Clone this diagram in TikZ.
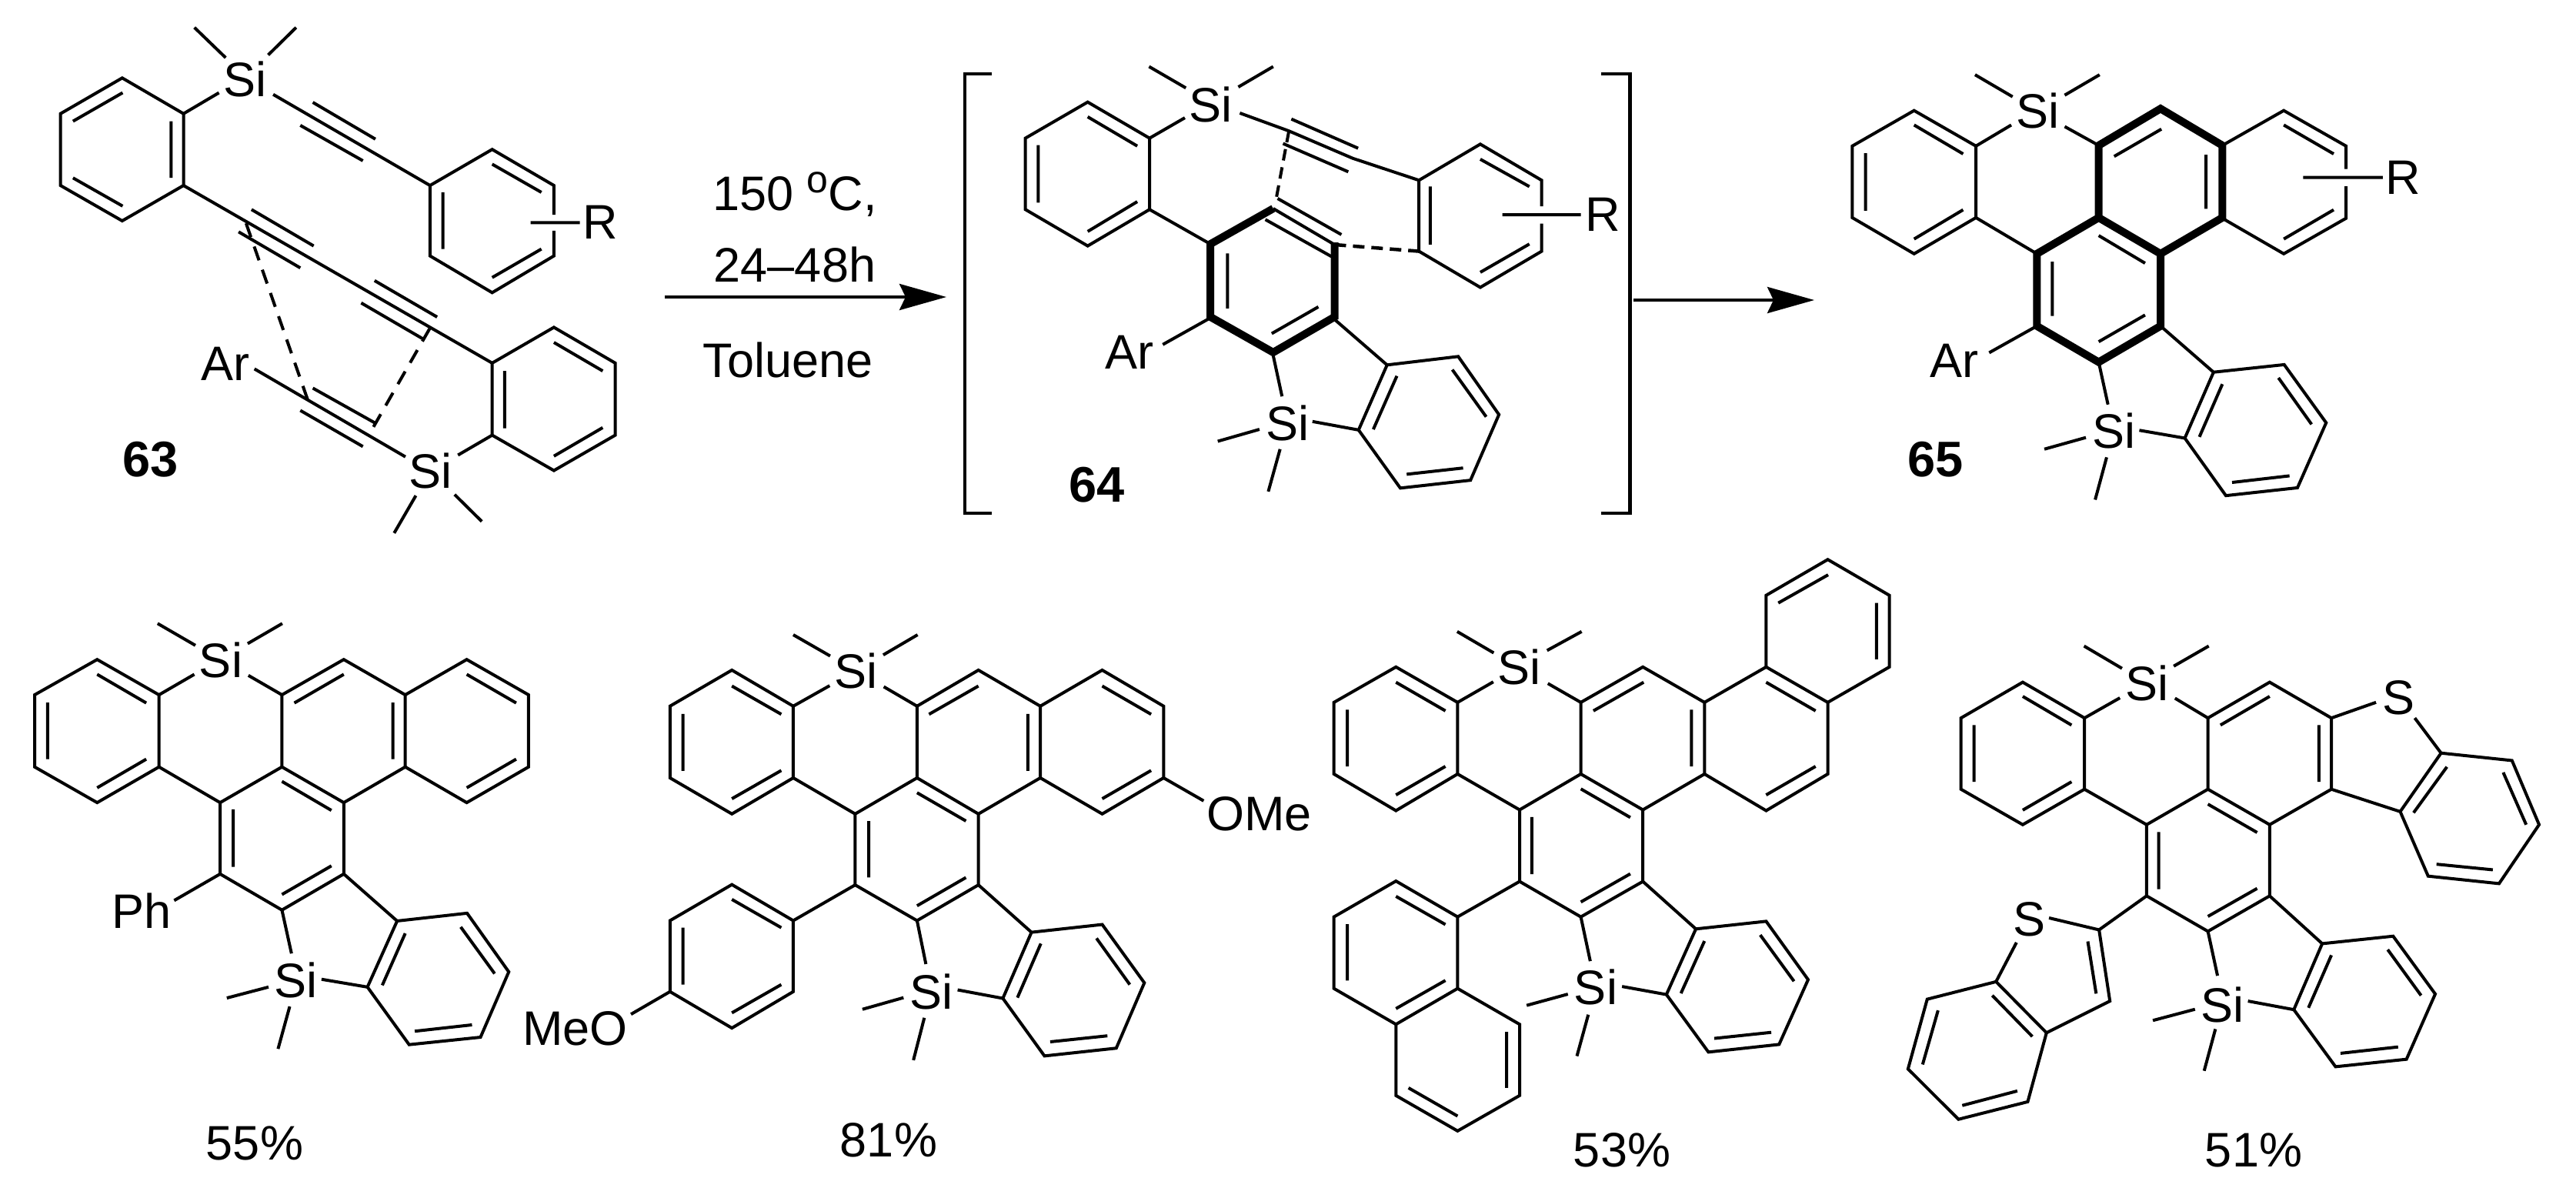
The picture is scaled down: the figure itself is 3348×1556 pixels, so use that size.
\documentclass[tikz,border=0pt]{standalone}
\usepackage{fontspec}
\setmainfont{Liberation Sans}
\usetikzlibrary{arrows.meta}
\tikzset{
  bond/.style={line width=4pt,line cap=butt,line join=miter,black},
  bold bond/.style={line width=10pt,line cap=butt,line join=miter,black},
  thin dash/.style={line width=4pt,dash pattern=on 19pt off 13pt,black},
  short dash/.style={line width=4pt,dash pattern=on 15pt off 9pt,black},
  side dash/.style={line width=4.5pt,dash pattern=on 15pt off 9pt,black},
  atom/.style={inner sep=0pt,font=\fontsize{63}{63}\selectfont,black},
  cmpd/.style={inner sep=0pt,font=\fontsize{65}{65}\selectfont\bfseries,black},
  yield/.style={inner sep=0pt,font=\fontsize{63}{63}\selectfont,black},
  rxn/.style={line width=4pt,black,-{Stealth[length=61pt,width=34pt,inset=8pt]}},
  brk/.style={line width=4.5pt,line cap=butt,line join=miter,black}
}
\begin{document}
\begin{tikzpicture}[x=1pt,y=-1pt]
\fill[white] (0,0) rectangle (3348,1556);
\useasboundingbox (0,0) rectangle (3348,1556);

% ---------- 63 ----------
\begin{scope}[shift={(0,0)},x=0.5421pt,y=-0.4464pt]
\node[atom] (a-si1) at (588,230) {Si};
\node[atom] (a-r) at (1440,648) {R};
\node[atom] (a-ar) at (540,1060) {Ar};
\node[atom] (a-si2) at (1032,1372) {Si};
\node[cmpd] (a-num) at (360,1337) {63};
\draw[bond] (293,227)--(440,331)--(440,540)--(293,643)--(145,540)--(145,331)--cycle;
\draw[bond] (294,270)--(175,353) (410,353)--(410,518) (294,600)--(175,518);
\draw[bond] (541,168)--(466,80) (643,160)--(710,80) (440,331)--(525,270);
\draw[bond] (655,275)--(1031,540) (750,298)--(900,405) (720,365)--(870,468);
\draw[bond] (1328,625)--(1328,540)--(1180,435)--(1031,540)--(1031,745)--(1180,852)--(1328,745)--(1328,672);
\draw[bond] (1180,478)--(1298,560) (1062,560)--(1062,725) (1180,808)--(1298,725) (1272,648)--(1390,648);
\draw[bond] (440,540)--(1180,1057) (603,610)--(752,716) (572,675)--(720,780) (898,817)--(1048,923) (866,882)--(1016,988);
\draw[bond] (1180,1057)--(1328,953)--(1475,1057)--(1475,1267)--(1328,1370)--(1180,1267)--cycle;
\draw[bond] (1328,997)--(1445,1080) (1210,1080)--(1210,1247) (1328,1328)--(1445,1245);
\draw[bond] (1180,1267)--(1098,1325) (997,1443)--(945,1552) (1090,1440)--(1155,1518);
\draw[bond] (610,1074)--(972,1330) (750,1130)--(900,1232) (720,1195)--(870,1300);
\draw[thin dash] (590,650)--(738,1165);
\draw[thin dash] (1030,957)--(885,1265);
\end{scope}

% ---------- 64 ----------
\begin{scope}[shift={(1200,60)},x=0.6378pt,y=-0.4082pt]
\node[atom] (b-si1) at (585,185) {Si};
\node[atom] (b-r) at (1385,537) {R};
\node[atom] (b-ar) at (420,975) {Ar};
\node[atom] (b-si2) at (742,1200) {Si};
\node[cmpd] (b-num) at (353,1397) {64};
\draw[bond] (335,178)--(461,293)--(461,520)--(335,636)--(208,520)--(208,293)--cycle;
\draw[bond] (335,225)--(436,318) (234,315)--(234,498) (335,590)--(436,495);
\draw[bond] (535,133)--(460,65) (642,130)--(713,65) (461,293)--(533,228);
\draw[bond] (645,213)--(745,270)--(875,357)--(1010,427) (750,232)--(886,325) (733,310)--(866,400);
\draw[short dash] (745,270)--(718,495);
\draw[bond] (1260,510)--(1260,427)--(1135,312)--(1010,427)--(1010,653)--(1135,768)--(1260,653)--(1260,565);
\draw[bond] (1135,360)--(1235,447) (1033,447)--(1033,632) (1135,720)--(1235,630) (1180,537)--(1340,537);
\draw[bold bond] (585,634)--(585,630)--(713,517);
\draw[bold bond] (585,630)--(585,862)--(713,975)--(838,862)--(838,625);
\draw[bond] (713,517)--(838,632) (722,485)--(852,600) (697,552)--(832,670);
\draw[side dash] (838,632)--(1010,653);
\draw[bond] (620,660)--(620,835) (710,915)--(805,830);
\draw[bond] (461,520)--(585,630) (488,950)--(585,865) (713,985)--(731,1115);
\draw[bond] (685,1220)--(600,1258) (727,1283)--(703,1418) (793,1195)--(887,1222) (838,870)--(945,1015);
\draw[bond] (945,1015)--(1090,988)--(1173,1173)--(1115,1382)--(972,1407)--(887,1222)--cycle;
\draw[bond] (965,1050)--(917,1220) (1078,1030)--(1147,1180) (985,1363)--(1100,1343);
\draw[brk] (140,88)--(85,88)--(85,1487)--(140,1487);
\draw[brk] (1382,88)--(1440,88)--(1440,1487)--(1382,1487);
\end{scope}

% ---------- 65 ----------
\begin{scope}[shift={(2300,40)},x=0.574pt,y=-0.4082pt]
\node[atom] (c-si1) at (607,255) {Si};
\node[atom] (c-r) at (1435,467) {R};
\node[atom] (c-ar) at (418,1050) {Ar};
\node[atom] (c-si2) at (780,1275) {Si};
\node[cmpd] (c-num) at (375,1365) {65};
\draw[bond] (327,254)--(467,367)--(467,595)--(327,710)--(187,595)--(187,367)--cycle;
\draw[bond] (327,300)--(438,392) (217,390)--(217,573) (327,663)--(438,570);
\draw[bond] (550,210)--(465,140) (668,205)--(747,140) (467,367)--(547,300) (668,305)--(745,365);
\draw[bold bond] (745,595)--(745,365)--(885,248)--(1025,365)--(1025,595)--(885,710)--(745,595)--(605,710)--(605,940)--(745,1055)--(885,940)--(885,710);
\draw[bond] (780,400)--(887,313) (988,395)--(988,567) (745,652)--(850,740) (640,735)--(640,908) (745,990)--(850,905);
\draw[bond] (1305,440)--(1305,367)--(1164,254)--(1025,365) (1025,597)--(1164,710)--(1305,597)--(1305,495);
\draw[bond] (1164,300)--(1277,392) (1164,663)--(1277,570) (1208,467)--(1388,467);
\draw[bond] (467,595)--(605,710) (497,1025)--(605,940) (745,1055)--(766,1190);
\draw[bond] (716,1295)--(622,1332) (763,1358)--(737,1493) (837,1272)--(940,1297) (885,940)--(1005,1087);
\draw[bond] (1005,1087)--(1165,1063)--(1260,1248)--(1195,1455)--(1033,1480)--(940,1297)--cycle;
\draw[bond] (1025,1125)--(973,1293) (1152,1105)--(1227,1253) (1047,1438)--(1177,1417);
\end{scope}

% ---------- 55% compound ----------
\begin{scope}[shift={(0,780)},x=0.4592pt,y=-0.4592pt]
\node[atom] (d-si1) at (625,170) {Si};
\node[atom] (d-ph) at (400,878) {Ph};
\node[atom] (d-si2) at (838,1075) {Si};
\draw[bond] (275,168)--(450,268)--(450,472)--(275,573)--(98,472)--(98,268)--cycle;
\draw[bond] (275,210)--(414,291) (135,290)--(135,450) (275,531)--(414,450);
\draw[bond] (553,128)--(446,66) (701,123)--(799,66) (450,268)--(550,210) (703,213)--(798,268);
\draw[bond] (798,268)--(973,168)--(1147,268)--(1147,472)--(973,573)--(798,472)--cycle;
\draw[bond] (833,291)--(973,210) (1112,290)--(1112,450) (798,513)--(938,595);
\draw[bond] (1147,268)--(1321,168)--(1496,268)--(1496,472)--(1321,573)--(1147,472);
\draw[bond] (1321,210)--(1461,291) (1321,531)--(1461,450);
\draw[bond] (798,472)--(623,573)--(623,775)--(798,877)--(973,775)--(973,573);
\draw[bond] (660,592)--(660,755) (798,833)--(938,752);
\draw[bond] (450,472)--(623,573) (493,850)--(623,775) (798,877)--(825,1000);
\draw[bond] (760,1095)--(642,1126) (820,1150)--(787,1270) (910,1073)--(1040,1095) (973,775)--(1124,908);
\draw[bond] (1124,908)--(1322,886)--(1440,1052)--(1360,1237)--(1158,1258)--(1040,1095)--cycle;
\draw[bond] (1147,943)--(1082,1090) (1304,925)--(1400,1057) (1174,1220)--(1336,1202);
\end{scope}

% ---------- 81% compound ----------
\begin{scope}[shift={(670,780)},x=0.676pt,y=-0.4592pt]
\node[atom] (e-si1) at (655,200) {Si};
\node[atom] (e-ome) at (1430,606) {OMe};
\node[atom] (e-meo) at (115,1212) {MeO};
\node[atom] (e-si2) at (800,1108) {Si};
\draw[bond] (416,198)--(534,300)--(534,503)--(416,605)--(297,503)--(297,300)--cycle;
\draw[bond] (416,243)--(511,323) (322,322)--(322,483) (416,562)--(511,482);
\draw[bond] (605,158)--(534,98) (707,155)--(773,98) (534,300)--(604,242) (708,245)--(772,300);
\draw[bond] (772,300)--(890,198)--(1009,300)--(1009,503)--(890,605)--(772,503)--cycle;
\draw[bond] (795,323)--(890,243) (985,322)--(985,483) (772,545)--(866,625);
\draw[bond] (1009,300)--(1128,198)--(1246,300)--(1246,503)--(1128,605)--(1009,503);
\draw[bond] (1128,243)--(1222,323) (1128,562)--(1222,482) (1246,503)--(1323,568);
\draw[bond] (772,503)--(653,605)--(653,806)--(772,907)--(890,806)--(890,605);
\draw[bond] (679,625)--(679,785) (772,865)--(866,785) (534,503)--(653,605) (653,806)--(534,907);
\draw[bond] (534,907)--(416,805)--(297,907)--(297,1108)--(416,1211)--(534,1108)--cycle;
\draw[bond] (416,847)--(511,927) (322,927)--(322,1088) (416,1168)--(511,1088) (297,1108)--(222,1172);
\draw[bond] (772,907)--(789,1030) (746,1125)--(667,1158) (786,1182)--(765,1302) (850,1103)--(937,1127) (890,806)--(992,940);
\draw[bond] (992,940)--(1128,918)--(1209,1083)--(1155,1268)--(1017,1290)--(937,1127)--cycle;
\draw[bond] (1010,972)--(965,1125) (1117,957)--(1181,1088) (1028,1250)--(1138,1233);
\end{scope}

% ---------- 53% compound ----------
\begin{scope}[shift={(1700,700)},x=0.5102pt,y=-0.523pt]
\node[atom] (f-si1) at (538,320) {Si};
\node[atom] (f-si2) at (733,1115) {Si};
\draw[bond] (224,319)--(381,407)--(381,585)--(224,676)--(66,585)--(66,407)--cycle;
\draw[bond] (224,357)--(350,428) (100,425)--(100,566) (224,637)--(350,566);
\draw[bond] (473,284)--(380,231) (609,278)--(697,231) (381,407)--(472,356) (611,360)--(695,407);
\draw[bond] (695,407)--(853,319)--(1010,407)--(1010,585)--(853,674)--(695,585)--cycle;
\draw[bond] (727,428)--(855,357) (977,425)--(977,566) (695,622)--(821,693);
\draw[bond] (1010,407)--(1167,319)--(1324,407)--(1324,585)--(1167,676)--(1010,585);
\draw[bond] (1167,357)--(1293,428) (1167,637)--(1293,566);
\draw[bond] (1167,319)--(1167,141)--(1324,52)--(1481,141)--(1481,319)--(1324,407);
\draw[bond] (1198,160)--(1325,90) (1448,160)--(1448,300);
\draw[bond] (695,585)--(539,674)--(539,852)--(695,940)--(853,852)--(853,674);
\draw[bond] (570,692)--(570,834) (695,903)--(821,833) (381,585)--(539,674) (539,852)--(381,940);
\draw[bond] (381,940)--(224,851)--(66,940)--(66,1118)--(224,1207)--(381,1118)--cycle;
\draw[bond] (224,889)--(350,959) (100,958)--(100,1098) (224,1168)--(350,1098);
\draw[bond] (381,1118)--(539,1207)--(539,1384)--(381,1472)--(224,1384)--(224,1207);
\draw[bond] (506,1226)--(506,1365) (381,1435)--(256,1365);
\draw[bond] (695,940)--(719,1050) (662,1132)--(557,1160) (714,1183)--(685,1286) (800,1113)--(913,1133) (853,852)--(988,970);
\draw[bond] (988,970)--(1167,951)--(1274,1096)--(1200,1257)--(1020,1276)--(913,1133)--cycle;
\draw[bond] (1010,1000)--(950,1130) (1152,985)--(1238,1100) (1035,1242)--(1180,1227);
\end{scope}

% ---------- 51% compound ----------
\begin{scope}[shift={(2450,780)},x=0.5421pt,y=-0.4847pt]
\node[atom] (g-si1) at (628,222) {Si};
\node[atom] (g-s1) at (1232,262) {S};
\node[atom] (g-s2) at (345,855) {S};
\node[atom] (g-si2) at (808,1085) {Si};
\draw[bond] (330,220)--(478,316)--(478,507)--(330,602)--(182,507)--(182,316)--cycle;
\draw[bond] (330,258)--(447,335) (213,335)--(213,487) (330,563)--(447,487);
\draw[bond] (568,183)--(477,123) (692,177)--(776,123) (478,316)--(563,262) (695,263)--(774,316);
\draw[bond] (774,316)--(922,220)--(1070,316)--(1070,507)--(922,602)--(774,507)--cycle;
\draw[bond] (804,335)--(922,258) (1040,335)--(1040,487) (774,547)--(892,623);
\draw[bond] (1070,316)--(1177,274) (1270,316)--(1333,410) (1070,507)--(1235,567);
\draw[bond] (1333,410)--(1503,430)--(1568,602)--(1472,760)--(1302,740)--(1235,567)--cycle;
\draw[bond] (1347,447)--(1267,570) (1482,462)--(1537,602) (1322,708)--(1457,723);
\draw[bond] (774,507)--(627,602)--(627,793)--(774,888)--(922,793)--(922,602);
\draw[bond] (656,622)--(656,775) (774,848)--(892,773) (478,507)--(627,602) (627,793)--(513,884);
\draw[bond] (393,852)--(513,884)--(539,1075)--(387,1160)--(266,1023)--(315,918);
\draw[bond] (486,915)--(506,1055);
\draw[bond] (266,1023)--(101,1070)--(55,1257)--(176,1392)--(342,1345)--(387,1160);
\draw[bond] (257,1060)--(353,1170) (127,1100)--(90,1245) (185,1355)--(317,1316);
\draw[bond] (774,888)--(797,1007) (743,1097)--(642,1127) (792,1150)--(765,1262) (870,1075)--(980,1098) (922,793)--(1048,921);
\draw[bond] (1048,921)--(1218,901)--(1319,1056)--(1250,1231)--(1080,1251)--(980,1098)--cycle;
\draw[bond] (1070,952)--(1015,1093) (1205,937)--(1285,1060) (1092,1215)--(1230,1198);
\end{scope}

% ---------- reaction arrows and conditions ----------
\coordinate (r1s) at (864,386);
\coordinate (r1e) at (1230,386);
\coordinate (r2s) at (2123,390);
\coordinate (r2e) at (2358,390);
\draw[rxn] (r1s)--(r1e);
\draw[rxn] (r2s)--(r2e);
\node[atom,anchor=base] (t1) at (1033,273) {150 \raisebox{23pt}{\fontsize{50}{50}\selectfont o}C,};
\node[atom,anchor=base] (t2) at (1033,366) {24–48h};
\node[atom,anchor=base] (t3) at (1024,490) {Toluene};

% ---------- yields ----------
\node[yield] (y1) at (331,1486) {55\%};
\node[yield] (y2) at (1155,1482) {81\%};
\node[yield] (y3) at (2108,1495) {53\%};
\node[yield] (y4) at (2929,1495) {51\%};
\end{tikzpicture}
\end{document}
